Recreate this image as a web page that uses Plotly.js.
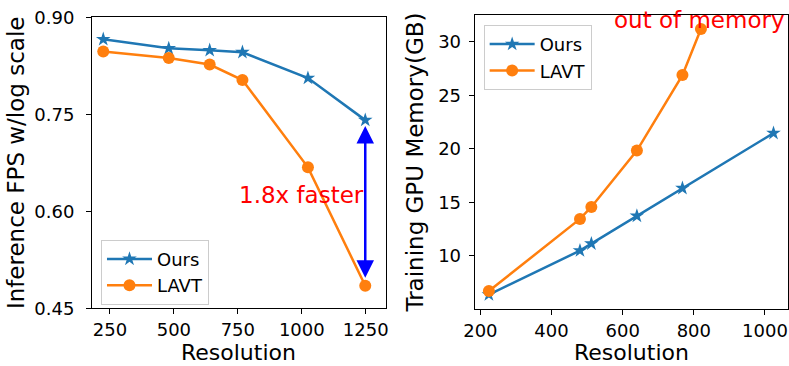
<!DOCTYPE html>
<html>
<head>
<meta charset="utf-8">
<script src="https://cdn.plot.ly/plotly-3.0.1.min.js"></script>
<style>html,body{margin:0;padding:0;background:#fff;}#chart{width:789px;height:366px;}</style>
</head>
<body>
<div id="chart"></div>
<script>
// Left panel: inference FPS
const fpsRes = [224, 480, 640, 768, 1024, 1248];
const fpsOurs = [0.866, 0.852, 0.849, 0.846, 0.806, 0.741];
const fpsLavt = [0.847, 0.837, 0.827, 0.803, 0.668, 0.485];
// Right panel: training GPU memory
const memResOurs = [224, 480, 512, 640, 768, 1024];
const memOurs = [6.4, 10.5, 11.15, 13.74, 16.33, 21.47];
const memResLavt = [224, 480, 512, 640, 768, 820];
const memLavt = [6.73, 13.46, 14.58, 19.84, 26.89, 31.2];
// Annotation values
const arrowX = 1248, arrowTop = 0.732, arrowBottom = 0.495;
const fasterLabel = "1.8x faster", oomLabel = "out of memory";
const xTitle = "Resolution";

const blue = '#1f77b4', orange = '#ff7f0e';
const font = 'DejaVu Sans, sans-serif';

const traces = [
  {x: fpsRes, y: fpsOurs, name: 'Ours', mode: 'lines+markers', xaxis: 'x', yaxis: 'y', legend: 'legend',
   line: {color: blue, width: 2.5}, marker: {symbol: 'star', size: 11, color: blue}},
  {x: fpsRes, y: fpsLavt, name: 'LAVT', mode: 'lines+markers', xaxis: 'x', yaxis: 'y', legend: 'legend',
   line: {color: orange, width: 2.5}, marker: {symbol: 'circle', size: 12, color: orange}},
  {x: memResOurs, y: memOurs, name: 'Ours', mode: 'lines+markers', xaxis: 'x2', yaxis: 'y2', legend: 'legend2',
   line: {color: blue, width: 2.5}, marker: {symbol: 'star', size: 11, color: blue}},
  {x: memResLavt, y: memLavt, name: 'LAVT', mode: 'lines+markers', xaxis: 'x2', yaxis: 'y2', legend: 'legend2',
   line: {color: orange, width: 2.5}, marker: {symbol: 'circle', size: 12, color: orange}}
];

const axBase = {showline: true, mirror: true, linecolor: '#000', linewidth: 1, ticks: 'outside', ticklen: 5,
  tickcolor: '#000', showgrid: false, zeroline: false, tickfont: {family: font, size: 18, color: '#000'}};

const legBase = {font: {family: font, size: 18, color: '#000'}, bgcolor: 'rgba(255,255,255,0.8)',
  bordercolor: '#cccccc', borderwidth: 1, tracegroupgap: 0, itemwidth: 45};

const titleFont = {family: font, size: 23, color: '#000'};
const xTitleFont = {family: font, size: 22, color: '#000'};

const layout = {
  width: 789, height: 366, margin: {l: 0, r: 0, t: 0, b: 0},
  paper_bgcolor: '#fff', plot_bgcolor: '#fff', showlegend: true,
  font: {family: font, color: '#000'},
  xaxis: Object.assign({}, axBase, {domain: [0.1166, 0.4892], range: [180, 1329], tick0: 0, dtick: 250, ticklabelstandoff: 0}),
  yaxis: Object.assign({}, axBase, {domain: [0.1576, 0.9527], range: [0.45, 0.90], tick0: 0.45, dtick: 0.15, tickformat: '.2f',
    ticklabelstandoff: 8,
    title: {text: 'Inference FPS w/log scale', font: titleFont, standoff: 3}}),
  xaxis2: Object.assign({}, axBase, {domain: [0.6016, 0.9984], range: [184, 1064], tick0: 0, dtick: 200, anchor: 'y2', ticklabelstandoff: 0}),
  yaxis2: Object.assign({}, axBase, {domain: [0.1557, 0.959], range: [5.05, 32.5], tick0: 0, dtick: 5, anchor: 'x2',
    ticklabelstandoff: 4,
    title: {text: 'Training GPU Memory(GB)', font: titleFont, standoff: 8}}),
  legend: Object.assign({}, legBase, {x: 0.128, y: 0.345, xanchor: 'left', yanchor: 'top', xref: 'paper', yref: 'paper'}),
  legend2: Object.assign({}, legBase, {x: 0.613, y: 0.932, xanchor: 'left', yanchor: 'top', xref: 'paper', yref: 'paper'}),
  annotations: [
    {x: arrowX, y: arrowTop, ax: arrowX, ay: arrowBottom, xref: 'x', yref: 'y', axref: 'x', ayref: 'y',
     text: '', showarrow: true, arrowhead: 2, startarrowhead: 2, arrowside: 'end+start', arrowsize: 1.4, startarrowsize: 1.4,
     arrowwidth: 2.5, arrowcolor: '#0000ff'},
    {x: 998, y: 0.625, xref: 'x', yref: 'y', text: fasterLabel, showarrow: false,
     font: {family: font, size: 23, color: '#ff0000'}, xanchor: 'center', yanchor: 'middle'},
    {x: 570, y: 32.0, xref: 'x2', yref: 'y2', text: oomLabel, showarrow: false,
     font: {family: font, size: 23, color: '#ff0000'}, xanchor: 'left', yanchor: 'middle'},
    {x: 0.5, y: 0, xref: 'x domain', yref: 'paper', text: xTitle, showarrow: false, borderpad: 0,
     font: xTitleFont, xanchor: 'center', yanchor: 'bottom'},
    {x: 0.5, y: 0, xref: 'x2 domain', yref: 'paper', text: xTitle, showarrow: false, borderpad: 0,
     font: xTitleFont, xanchor: 'center', yanchor: 'bottom'}
  ]
};

Plotly.newPlot('chart', traces, layout, {staticPlot: true, displayModeBar: false});
</script>
</body>
</html>
